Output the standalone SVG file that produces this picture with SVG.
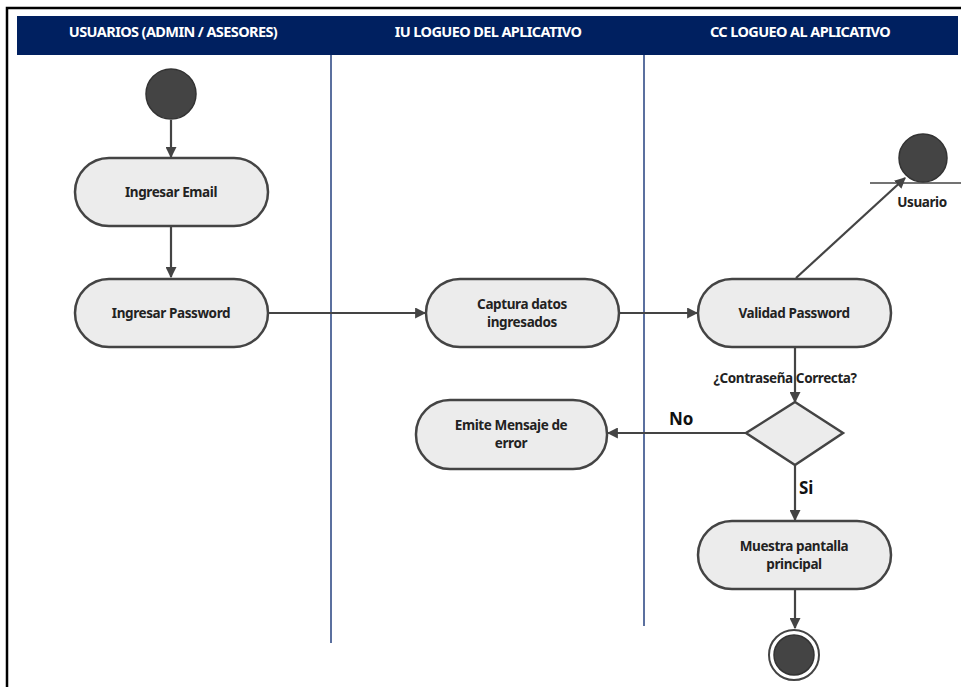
<svg xmlns="http://www.w3.org/2000/svg" width="961" height="687" viewBox="0 0 961 687">
  <style>
    .frame { stroke: #000; stroke-width: 2.5; fill: none; }
    .lane-head { fill: #002060; }
    .lane-title { font-family: "Noto Sans", "Liberation Sans", sans-serif; font-weight: bold; font-size: 14.5px; fill: #fff; text-anchor: middle; letter-spacing: -0.6px; }
    .divider { stroke: #24407f; stroke-width: 1.5; }
    .action { fill: #ececec; stroke: #444; stroke-width: 2.5; }
    .label { font-family: "Noto Sans", "Liberation Sans", sans-serif; font-weight: bold; font-size: 13.5px; fill: #222; text-anchor: middle; letter-spacing: -0.4px; }
    .big { font-family: "Noto Sans", "Liberation Sans", sans-serif; font-weight: bold; font-size: 17px; fill: #111; }
    .edge { stroke: #444; stroke-width: 2.2; fill: none; marker-end: url(#arrow); }
    .dot { fill: #444; stroke: #333; stroke-width: 1.5; }
  </style>
  <defs>
    <marker id="arrow" viewBox="0 0 10 10" refX="9" refY="5" markerWidth="5" markerHeight="5" orient="auto" markerUnits="strokeWidth">
      <path d="M0,0 L10,5 L0,10 z" fill="#444"/>
    </marker>
  </defs>

  <rect width="961" height="687" fill="#fff"/>
  <!-- outer frame: top and left edges -->
  <path class="frame" d="M7,687 V8 H961"/>

  <!-- swimlane header band -->
  <g id="lanes">
    <rect class="lane-head" x="17" y="16" width="941" height="39"/>
    <text class="lane-title" x="173" y="37">USUARIOS (ADMIN / ASESORES)</text>
    <text class="lane-title" x="488" y="37">IU LOGUEO DEL APLICATIVO</text>
    <text class="lane-title" x="800" y="37">CC LOGUEO AL APLICATIVO</text>
    <line class="divider" x1="331" y1="55" x2="331" y2="643"/>
    <line class="divider" x1="644" y1="55" x2="644" y2="626"/>
  </g>

  <!-- connectors -->
  <g id="connectors">
    <line class="edge" x1="171" y1="120" x2="171" y2="157"/>
    <line class="edge" x1="171" y1="227" x2="171" y2="277"/>
    <line class="edge" x1="268" y1="313" x2="425" y2="313"/>
    <line class="edge" x1="619" y1="313" x2="697" y2="313"/>
    <line class="edge" x1="796" y1="278" x2="905" y2="178"/>
    <line class="edge" x1="795" y1="347" x2="795" y2="402"/>
    <line class="edge" x1="746" y1="433" x2="608" y2="433"/>
    <line class="edge" x1="795" y1="465" x2="795" y2="520"/>
    <line class="edge" x1="795" y1="590" x2="795" y2="628"/>
    <text class="label" x="785" y="383">¿Contraseña Correcta?</text>
    <text class="big" x="669" y="425">No</text>
    <text class="big" x="799" y="494">Si</text>
  </g>

  <g id="start">
    <circle class="dot" cx="171" cy="94" r="25"/>
  </g>

  <g id="ingresar-email">
    <rect class="action" x="75" y="158" width="193" height="68" rx="34"/>
    <text class="label" x="171" y="197">Ingresar Email</text>
  </g>

  <g id="ingresar-password">
    <rect class="action" x="75" y="279" width="193" height="68" rx="34"/>
    <text class="label" x="171" y="318">Ingresar Password</text>
  </g>

  <g id="captura-datos">
    <rect class="action" x="426" y="279" width="193" height="68" rx="34"/>
    <text class="label" x="522" y="309">Captura datos</text>
    <text class="label" x="522" y="327">ingresados</text>
  </g>

  <g id="validad-password">
    <rect class="action" x="698" y="279" width="193" height="68" rx="34"/>
    <text class="label" x="794" y="318">Validad Password</text>
  </g>

  <g id="usuario">
    <line x1="870" y1="183" x2="961" y2="183" stroke="#444" stroke-width="1.5"/>
    <circle class="dot" cx="923" cy="158" r="24"/>
    <text class="label" x="922" y="207">Usuario</text>
  </g>

  <g id="decision">
    <polygon class="action" points="795,402 843,433 795,465 746,433"/>
  </g>

  <g id="emite-error">
    <rect class="action" x="416" y="400" width="191" height="69" rx="34"/>
    <text class="label" x="511" y="430">Emite Mensaje de</text>
    <text class="label" x="511" y="448">error</text>
  </g>

  <g id="muestra-pantalla">
    <rect class="action" x="698" y="521" width="193" height="68" rx="34"/>
    <text class="label" x="794" y="551">Muestra pantalla</text>
    <text class="label" x="794" y="569">principal</text>
  </g>

  <g id="end">
    <circle cx="794" cy="655" r="25" fill="#fff" stroke="#444" stroke-width="2"/>
    <circle class="dot" cx="794" cy="655" r="20"/>
  </g>
</svg>
